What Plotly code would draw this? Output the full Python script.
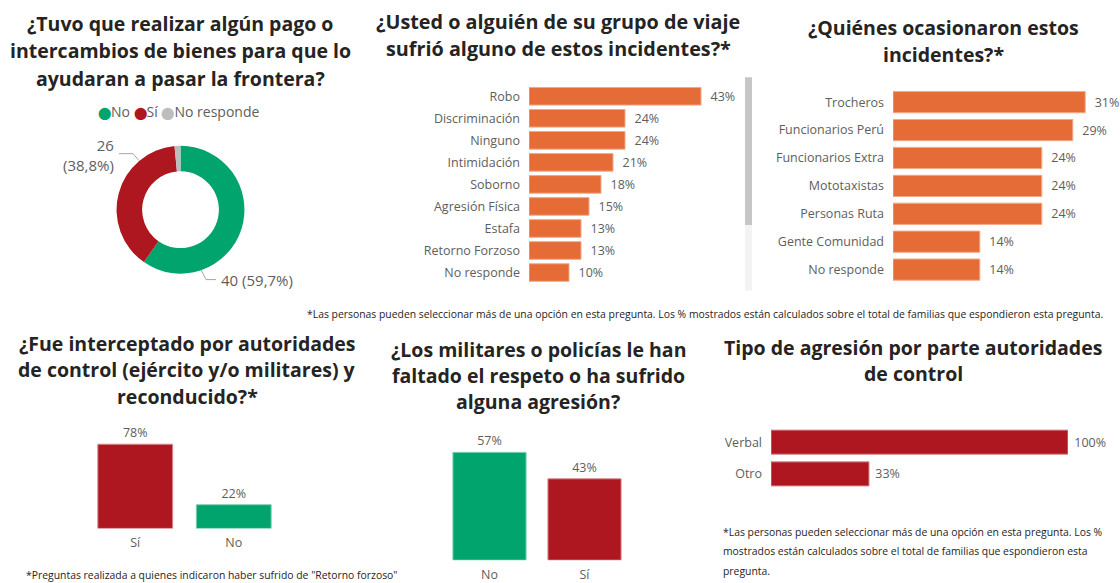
import plotly.graph_objects as go

W, H = 1120, 583

# ---------------- data ----------------
pie_labels = ["No", "Sí", "No responde"]
pie_values = [40, 26, 1]

inc_cats = ["Robo", "Discriminación", "Ninguno", "Intimidación", "Soborno",
            "Agresión Física", "Estafa", "Retorno Forzoso", "No responde"]
inc_vals = [43, 24, 24, 21, 18, 15, 13, 13, 10]

who_cats = ["Trocheros", "Funcionarios Perú", "Funcionarios Extra", "Mototaxistas",
            "Personas Ruta", "Gente Comunidad", "No responde"]
who_vals = [31, 29, 24, 24, 24, 14, 14]

int_cats = ["Sí", "No"]
int_vals = [78, 22]

mil_cats = ["No", "Sí"]
mil_vals = [57, 43]

tipo_cats = ["Verbal", "Otro"]
tipo_vals = [100, 33]

# ---------------- style ----------------
GREEN = "#01A46D"
RED = "#AE1720"
GRAY = "#BDBDBD"
ORANGE = "#E66C37"
TXT = "#605E5C"
TITLE = "#252423"
FONT = "Segoe UI, Open Sans, sans-serif"


def px_x(a, b):
    return [a / W, b / W]


def px_y(top, bottom):
    return [1 - bottom / H, 1 - top / H]


def X(p):
    return p / W


def Y(p):
    return 1 - p / H


fig = go.Figure()

# Pie / donut
total = sum(pie_values)
pct = [f"{v / total * 100:.1f}".replace(".", ",") + "%" for v in pie_values]
fig.add_trace(go.Pie(
    labels=pie_labels, values=pie_values, hole=0.6, sort=False,
    direction="clockwise", rotation=0,
    marker=dict(colors=[GREEN, RED, GRAY], line=dict(width=0)),
    textinfo="none", hoverinfo="label+value+percent",
    domain=dict(x=px_x(116, 245), y=px_y(147, 276)),
    showlegend=False,
))

bar_text = dict(size=12.5, color=TXT, family=FONT)

# Incidents
fig.add_trace(go.Bar(
    y=inc_cats, x=inc_vals, orientation="h", marker=dict(color=ORANGE, line=dict(color="#F3A987", width=1)),
    texttemplate="  %{x}%", textposition="outside", cliponaxis=False,
    constraintext="none", textfont=bar_text, xaxis="x", yaxis="y", width=0.8,
))
# Who
fig.add_trace(go.Bar(
    y=who_cats, x=who_vals, orientation="h", marker=dict(color=ORANGE, line=dict(color="#F3A987", width=1)),
    texttemplate="  %{x}%", textposition="outside", cliponaxis=False,
    constraintext="none", textfont=bar_text, xaxis="x2", yaxis="y2", width=0.76,
))
# Intercepted
fig.add_trace(go.Bar(
    x=int_cats, y=int_vals, marker=dict(color=[RED, GREEN], line=dict(color=["#D98A8F", "#7FD1B5"], width=1)),
    texttemplate="%{y}%", textposition="outside", cliponaxis=False,
    constraintext="none", textfont=bar_text, xaxis="x3", yaxis="y3", width=0.76,
))
# Militares
fig.add_trace(go.Bar(
    x=mil_cats, y=mil_vals, marker=dict(color=[GREEN, RED], line=dict(color=["#7FD1B5", "#D98A8F"], width=1)),
    texttemplate="%{y}%", textposition="outside", cliponaxis=False,
    constraintext="none", textfont=bar_text, xaxis="x4", yaxis="y4", width=0.77,
))
# Tipo
fig.add_trace(go.Bar(
    y=tipo_cats, x=tipo_vals, orientation="h", marker=dict(color=RED, line=dict(color="#D98A8F", width=1)),
    texttemplate=" %{x}%", textposition="outside", cliponaxis=False,
    constraintext="none", textfont=bar_text, xaxis="x5", yaxis="y5", width=0.76,
))

tickf = dict(size=12.5, color=TXT, family=FONT)
hidden = dict(visible=False, showgrid=False, zeroline=False, fixedrange=True)
cat_h = dict(type="category", autorange="reversed", showgrid=False, zeroline=False,
             showline=False, ticks="", tickfont=tickf, ticklabelstandoff=8, fixedrange=True)
cat_v = dict(type="category", showgrid=False, zeroline=False, showline=False,
             ticks="", tickfont=tickf, ticklabelstandoff=5, fixedrange=True)

fig.update_layout(
    width=W, height=H, margin=dict(l=0, r=0, t=0, b=0),
    paper_bgcolor="white", plot_bgcolor="white", showlegend=False,
    font=dict(family=FONT, color=TXT),
    bargap=0.2,
    xaxis=dict(hidden, domain=px_x(529, 729), range=[0, 50], anchor="y"),
    yaxis=dict(cat_h, domain=px_y(86, 286), anchor="x"),
    xaxis2=dict(hidden, domain=px_x(893, 1110), range=[0, 35], anchor="y2"),
    yaxis2=dict(cat_h, domain=px_y(89, 286), anchor="x2"),
    xaxis3=dict(cat_v, domain=px_x(86, 283), anchor="y3"),
    yaxis3=dict(hidden, domain=px_y(435, 533), range=[0, 90], anchor="x3"),
    xaxis4=dict(cat_v, domain=px_x(442, 632), anchor="y4"),
    yaxis4=dict(hidden, domain=px_y(441, 565), range=[0, 65], anchor="x4"),
    xaxis5=dict(hidden, domain=px_x(771, 1068), range=[0, 100], anchor="y5"),
    yaxis5=dict(cat_h, domain=px_y(430, 494), anchor="x5"),
)

ann = []


def title(lines, cx, ys, size=19.5):
    for t, yy in zip(lines, ys):
        ann.append(dict(text=f"<b>{t}</b>", x=X(cx), y=Y(yy), xref="paper", yref="paper",
                        xanchor="center", yanchor="middle", showarrow=False,
                        font=dict(size=size, color=TITLE, family=FONT)))


title(["¿Tuvo que realizar algún pago o", "intercambios de bienes para que lo",
       "ayudaran a pasar la frontera?"], 180, [24, 51, 79])
title(["¿Usted o alguién de su grupo de viaje", "sufrió alguno de estos incidentes?*"], 558, [22, 49], 19.8)
title(["¿Quiénes ocasionaron estos", "incidentes?*"], 943, [28, 55])
title(["¿Fue interceptado por autoridades", "de control (ejército y/o militares) y",
       "reconducido?*"], 187, [346, 373, 400])
title(["¿Los militares o policías le han", "faltado el respeto o ha sufrido",
       "alguna agresión?"], 538, [353, 379, 405])
title(["Tipo de agresión por parte autoridades", "de control"], 913, [351, 377])

# legend for donut
leg_cols = [GREEN, RED, GRAY]
leg_txt = "".join(f'<span style="color:{c};font-size:12px">⬤</span>{l} '
                  for c, l in zip(leg_cols, pie_labels)).strip()
ann.append(dict(text=leg_txt, x=X(178), y=Y(112), xref="paper", yref="paper",
                xanchor="center", yanchor="middle", showarrow=False,
                font=dict(size=14, color=TXT, family=FONT)))

# donut labels
ann.append(dict(text=f"{pie_values[1]}<br>({pct[1]})", x=X(116), y=Y(156), xref="paper", yref="paper",
                xanchor="right", yanchor="middle", align="right", showarrow=False,
                font=dict(size=15, color=TXT, family=FONT)))
ann.append(dict(text=f"{pie_values[0]} ({pct[0]})", x=X(219), y=Y(282), xref="paper", yref="paper",
                xanchor="left", yanchor="middle", showarrow=False,
                font=dict(size=15, color=TXT, family=FONT)))

note = ("*Las personas pueden seleccionar más de una opción en esta pregunta. Los % mostrados "
        "están calculados sobre el total de familias que espondieron esta pregunta.")
ann.append(dict(text=note, x=X(1105), y=Y(317), xref="paper", yref="paper",
                xanchor="right", yanchor="middle", showarrow=False,
                font=dict(size=10.4, color=TITLE, family=FONT)))
ann.append(dict(text='*Preguntas realizada a quienes indicaron haber sufrido de "Retorno forzoso"',
                x=X(212), y=Y(580), xref="paper", yref="paper",
                xanchor="center", yanchor="middle", showarrow=False,
                font=dict(size=10.4, color=TITLE, family=FONT)))
for t, yy in zip(["*Las personas pueden seleccionar más de una opción en esta pregunta. Los %",
                  "mostrados están calculados sobre el total de familias que espondieron esta",
                  "pregunta."], [537, 556, 576]):
    ann.append(dict(text=t, x=X(721), y=Y(yy), xref="paper", yref="paper",
                    xanchor="left", yanchor="middle", showarrow=False,
                    font=dict(size=10.4, color=TITLE, family=FONT)))

fig.update_layout(annotations=ann)

shapes = [
    # scrollbar
    dict(type="rect", xref="paper", yref="paper", x0=X(745), x1=X(752), y0=Y(293), y1=Y(227),
         fillcolor="#F3F3F3", line=dict(width=0), layer="below"),
    dict(type="rect", xref="paper", yref="paper", x0=X(745), x1=X(752), y0=Y(227), y1=Y(78),
         fillcolor="#C6C6C6", line=dict(width=0), layer="below"),
    # donut leader lines
    dict(type="path", xref="paper", yref="paper",
         path=f"M {X(119)} {Y(155)} L {X(133)} {Y(155)} L {X(139)} {Y(162)}",
         line=dict(color="#A6A6A6", width=1)),
    dict(type="path", xref="paper", yref="paper",
         path=f"M {X(201)} {Y(272)} L {X(206)} {Y(282)} L {X(216)} {Y(282)}",
         line=dict(color="#A6A6A6", width=1)),
]
fig.update_layout(shapes=shapes)

fig.write_html("out.html", config={"displayModeBar": False},
               post_script="document.body.style.margin='0';document.body.style.overflow='hidden';")
